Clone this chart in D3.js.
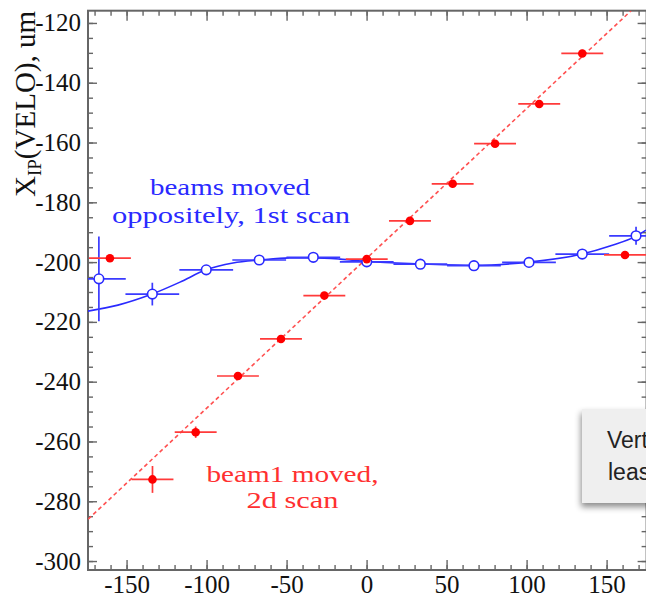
<!DOCTYPE html>
<html>
<head>
<meta charset="utf-8">
<script src="https://cdn.jsdelivr.net/npm/d3@7"></script>
<style>
body { margin: 0; background: #fff; }
</style>
</head>
<body>
<script>
var width = 646, height = 598;

// red: beam1 moved, 2d scan
var redX = [-160.4, -133.8, -106.8, -80.4, -53.5, -26.4, 0.1, 27.1, 53.8, 80.3, 107.9, 134.8, 161.5];
var redY = [-198.7, -272.7, -256.9, -238.1, -225.7, -211.2, -199.0, -186.2, -173.8, -160.4, -147.1, -130.2, -197.6];
var redXErr = [13.1, 13.1, 13.1, 13.1, 13.1, 13.1, 13.1, 13.1, 13.1, 13.1, 13.1, 13.1, 13.1];
var redYErr = [0.8, 4.5, 1.9, 1.2, 1, 1, 1, 1, 1, 1, 1, 1.2, 0.8];

// blue: beams moved oppositely, 1st scan
var blueX = [-167.3, -133.9, -100.2, -67.1, -33.3, 0.1, 33.6, 67.1, 101.5, 134.8, 168.4];
var blueY = [-205.6, -210.7, -202.6, -199.3, -198.4, -199.9, -200.7, -201.2, -200.1, -197.3, -191.2];
var blueXErr = [16.8, 16.8, 16.8, 16.8, 16.8, 16.8, 16.8, 16.8, 16.8, 16.8, 16.8];
var blueYErr = [14.2, 3.8, 1, 0.8, 0.8, 0.8, 0.8, 0.8, 0.8, 1, 3];

// fitted curves
var fitX = [-174.1, -155.4, -134.1, -116.6, -100.4, -83.5, -66.6, -47.9, -32.9, -16.6, 0.3, 33.4, 67.1, 101.5, 134.6, 152.1, 168.4, 174.6];
var fitY = [-216.4, -214.4, -210.7, -206.7, -202.6, -200.3, -199.3, -198.6, -198.6, -199.0, -199.8, -200.6, -201.1, -200.0, -197.3, -194.6, -191.3, -189.3];
var lineX = [-174.0, 165.3];
var lineY = [-286.0, -115.9];

var xMajor = [-150, -100, -50, 0, 50, 100, 150];
var yMajor = [-300, -280, -260, -240, -220, -200, -180, -160, -140, -120];

var x = d3.scaleLinear().domain([-174.1, 175]).range([88, 646.6]);
var y = d3.scaleLinear().domain([-303, -115.9]).range([570, 10.7]);

var xMinor = d3.range(-170, 175, 10);
var yMinor = d3.range(-300, -115, 5);

// plain hyphen minus, as in the original
var fmt = function(d){ return String(d); };

var svg = d3.select("body")
                    .append("svg")
                    .attr("width", width)
                    .attr("height", height)
                    .style("display", "block");

var defs = svg.append("defs");
defs.append("clipPath").attr("id", "plot")
    .append("rect")
    .attr("x", x.range()[0]).attr("y", y.range()[1])
    .attr("width", x.range()[1] - x.range()[0])
    .attr("height", y.range()[0] - y.range()[1]);
var shadow = defs.append("filter").attr("id", "shadow")
    .attr("x", "-20%").attr("y", "-20%").attr("width", "140%").attr("height", "150%");
shadow.append("feDropShadow").attr("dx", -1).attr("dy", 4).attr("stdDeviation", 3)
    .attr("flood-color", "#000").attr("flood-opacity", 0.45);

var axisColor = "#666";
var serif = "'Liberation Serif', 'Times New Roman', serif";

// frame
svg.append("rect")
    .attr("x", x.range()[0]).attr("y", y.range()[1])
    .attr("width", x.range()[1] - x.range()[0])
    .attr("height", y.range()[0] - y.range()[1])
    .attr("fill", "none").attr("stroke", axisColor).attr("stroke-width", 2);

function styleAxis(g) {
  g.attr("font-family", null).attr("font-size", null);
  g.select(".domain").remove();
  g.selectAll(".tick line").attr("stroke", axisColor).attr("stroke-width", 1.4);
  g.selectAll("text").attr("fill", "#111")
    .style("font-family", serif)
    .style("font-size", "25px");
}

// bottom
svg.append("g").attr("transform", "translate(0," + y.range()[0] + ")")
    .call(d3.axisBottom(x).tickValues(xMinor).tickSize(-5).tickFormat(""))
    .call(styleAxis);
svg.append("g").attr("transform", "translate(0," + y.range()[0] + ")")
    .call(d3.axisBottom(x).tickValues(xMajor).tickSize(-10).tickPadding(5).tickFormat(fmt))
    .call(styleAxis);
// top
svg.append("g").attr("transform", "translate(0," + y.range()[1] + ")")
    .call(d3.axisTop(x).tickValues(xMinor).tickSize(-5).tickFormat(""))
    .call(styleAxis);
svg.append("g").attr("transform", "translate(0," + y.range()[1] + ")")
    .call(d3.axisTop(x).tickValues(xMajor).tickSize(-10).tickFormat(""))
    .call(styleAxis);
// left
svg.append("g").attr("transform", "translate(" + x.range()[0] + ",0)")
    .call(d3.axisLeft(y).tickValues(yMinor).tickSize(-5).tickFormat(""))
    .call(styleAxis);
svg.append("g").attr("transform", "translate(" + x.range()[0] + ",0)")
    .call(d3.axisLeft(y).tickValues(yMajor).tickSize(-9).tickPadding(7).tickFormat(fmt))
    .call(styleAxis);
// right
svg.append("g").attr("transform", "translate(" + x.range()[1] + ",0)")
    .call(d3.axisRight(y).tickValues(yMinor).tickSize(-5).tickFormat(""))
    .call(styleAxis);
svg.append("g").attr("transform", "translate(" + x.range()[1] + ",0)")
    .call(d3.axisRight(y).tickValues(yMajor).tickSize(-9).tickFormat(""))
    .call(styleAxis);

// y title
var ytitle = svg.append("text")
    .attr("transform", "translate(35,197) rotate(-90)")
    .attr("fill", "#111")
    .style("font-family", serif)
    .style("font-size", "29px");
ytitle.append("tspan").text("X");
ytitle.append("tspan").attr("dy", 6).style("font-size", "19px").text("IP");
ytitle.append("tspan").attr("dy", -6).text("(VELO), um");

var plot = svg.append("g").attr("clip-path", "url(#plot)");

// red fit line
plot.append("line")
    .attr("x1", x(lineX[0])).attr("y1", y(lineY[0]))
    .attr("x2", x(lineX[1])).attr("y2", y(lineY[1]))
    .attr("stroke", "#ff5050").attr("stroke-width", 1.6)
    .attr("stroke-dasharray", "4,3");

// blue fit curve
var fitLine = d3.line()
    .x(function(d){ return x(d[0]); })
    .y(function(d){ return y(d[1]); })
    .curve(d3.curveMonotoneX);
plot.append("path")
    .datum(d3.zip(fitX, fitY))
    .attr("d", fitLine)
    .attr("fill", "none").attr("stroke", "#2a2aff").attr("stroke-width", 1.6);

function drawSeries(xs, ys, xe, ye, color, barColor, open) {
  var data = d3.range(xs.length).map(function(i){
    return {x: xs[i], y: ys[i], xe: xe[i], ye: ye[i]};
  });
  var g = plot.append("g");
  g.selectAll(".hbar").data(data).enter().append("line")
      .attr("x1", function(d){ return x(d.x - d.xe); })
      .attr("x2", function(d){ return x(d.x + d.xe); })
      .attr("y1", function(d){ return y(d.y); })
      .attr("y2", function(d){ return y(d.y); })
      .attr("stroke", barColor).attr("stroke-width", 1.7);
  g.selectAll(".vbar").data(data).enter().append("line")
      .attr("x1", function(d){ return x(d.x); })
      .attr("x2", function(d){ return x(d.x); })
      .attr("y1", function(d){ return y(d.y - d.ye); })
      .attr("y2", function(d){ return y(d.y + d.ye); })
      .attr("stroke", barColor).attr("stroke-width", 1.7);
  g.selectAll("circle").data(data).enter().append("circle")
      .attr("cx", function(d){ return x(d.x); })
      .attr("cy", function(d){ return y(d.y); })
      .attr("r", open ? 4.8 : 4.3)
      .attr("fill", open ? "#fff" : color)
      .attr("stroke", color).attr("stroke-width", open ? 1.6 : 0);
}

drawSeries(blueX, blueY, blueXErr, blueYErr, "#2a2aff", "#3a3aff", true);
drawSeries(redX, redY, redXErr, redYErr, "#ff0000", "#ff3a3a", false);

// annotations
function note(txt, cx, by, len, color) {
  svg.append("text")
      .attr("x", cx).attr("y", by)
      .attr("text-anchor", "middle")
      .attr("textLength", len).attr("lengthAdjust", "spacingAndGlyphs")
      .attr("fill", color)
      .style("font-family", serif).style("font-size", "24px")
      .text(txt);
}
note("beams moved", 230, 195, 160, "#2a2aff");
note("oppositely, 1st scan", 231, 223, 238, "#2a2aff");
note("beam1 moved,", 292.5, 481.5, 172, "#ff3030");
note("2d scan", 292.5, 508, 92, "#ff3030");

// grey note box (cut off at the right edge)
svg.append("rect")
    .attr("x", 582).attr("y", 409).attr("width", 120).attr("height", 94)
    .attr("fill", "#efefef").attr("filter", "url(#shadow)");
svg.append("text").attr("x", 607).attr("y", 448)
    .attr("fill", "#222")
    .style("font-family", "'Liberation Sans', Arial, sans-serif").style("font-size", "23px")
    .text("Vertex");
svg.append("text").attr("x", 608).attr("y", 480)
    .attr("fill", "#222")
    .style("font-family", "'Liberation Sans', Arial, sans-serif").style("font-size", "23px")
    .text("least");
</script>
</body>
</html>
